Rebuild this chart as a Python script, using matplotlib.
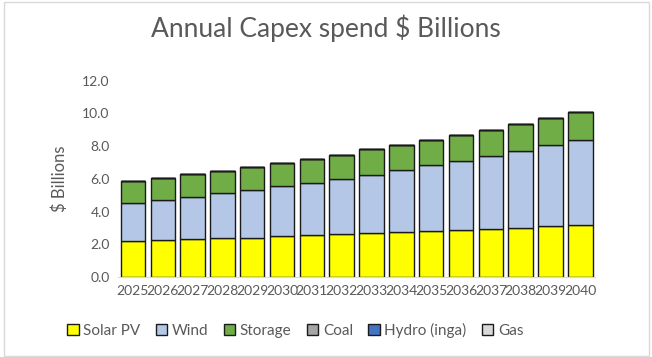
import matplotlib.pyplot as plt
import numpy as np

years = [str(y) for y in range(2025, 2041)]
solar = [2.20, 2.26, 2.30, 2.38, 2.40, 2.49, 2.57, 2.63, 2.69, 2.75, 2.79, 2.87, 2.94, 3.02, 3.10, 3.18]
wind_top = [4.50, 4.70, 4.90, 5.15, 5.34, 5.55, 5.75, 6.01, 6.26, 6.52, 6.83, 7.07, 7.38, 7.73, 8.05, 8.40]
total = [5.85, 6.05, 6.28, 6.50, 6.70, 6.97, 7.24, 7.48, 7.81, 8.05, 8.40, 8.68, 9.01, 9.38, 9.74, 10.11]
wind = [w - s for w, s in zip(wind_top, solar)]
storage = [t - w for t, w in zip(total, wind_top)]
coal = [0.0] * 16
hydro = [0.0] * 16
gas = [0.0] * 16

series = [
    ("Solar PV", solar, "#FFFF00"),
    ("Wind", wind, "#B4C7E7"),
    ("Storage", storage, "#70AD47"),
    ("Coal", coal, "#A5A5A5"),
    ("Hydro (inga)", hydro, "#4472C4"),
    ("Gas", gas, "#D9D9D9"),
]

plt.rcParams['font.family'] = ['Lato', 'DejaVu Sans']
txt = "#595959"

fig = plt.figure(figsize=(6.52, 3.57), dpi=100)
ax = fig.add_axes([0.181, 0.224, 0.732, 0.550])

x = np.arange(len(years))
bottom = np.zeros(len(years))
handles = []
for name, vals, col in series:
    b = ax.bar(x, vals, 0.82, bottom=bottom, color=col, edgecolor="#1a1a1a",
               linewidth=1.0, label=name)
    bottom += np.array(vals)
    handles.append(b)

ax.set_xlim(-0.5, len(years) - 0.5)
ax.set_ylim(0, 12)
ax.set_yticks(np.arange(0, 12.1, 2))
ax.set_yticklabels([f"{v:.1f}" for v in np.arange(0, 12.1, 2)], fontsize=10, color=txt)
ax.set_xticks(x)
ax.set_xticklabels(years, fontsize=10, color=txt)
ax.tick_params(length=0, pad=6)
for s in ["top", "right", "left"]:
    ax.spines[s].set_visible(False)
ax.spines["bottom"].set_color("#d9d9d9")
ax.set_ylabel("$ Billions", fontsize=12, color=txt, labelpad=10)

fig.suptitle("Annual Capex spend $ Billions", fontsize=19, color=txt, y=0.96, x=0.5)

leg = fig.legend(handles=handles, loc="center", bbox_to_anchor=(0.453, 0.075), ncol=6,
                 frameon=False, fontsize=11, handlelength=0.75, handleheight=0.75,
                 handletextpad=0.3, columnspacing=1.0)
for t in leg.get_texts():
    t.set_color(txt)

# light border around the whole chart
fig.patches.append(plt.Rectangle((0.006, 0.004), 0.990, 0.990, transform=fig.transFigure,
                                 fill=False, edgecolor="#d9d9d9", linewidth=1.0))

fig.savefig("out.png", dpi=100)
